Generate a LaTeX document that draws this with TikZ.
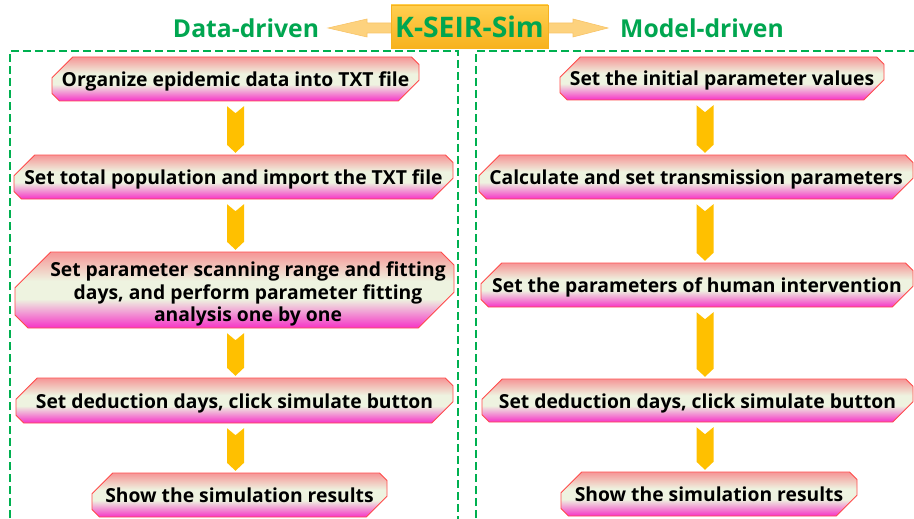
\documentclass[tikz,border=0pt]{standalone}
\usepackage{fontspec}
\setmainfont{Open Sans}
\usetikzlibrary{calc}
\definecolor{gr}{HTML}{00B050}
\definecolor{tgreen}{HTML}{00A650}
\definecolor{btop}{HTML}{F59A9A}
\definecolor{bmid}{HTML}{EEF3E0}
\definecolor{bbot}{HTML}{F53CC8}
\definecolor{bline}{HTML}{FF4B4B}
\definecolor{arr}{HTML}{FFC000}
\definecolor{tarr}{HTML}{FDD27E}
\definecolor{tarrline}{HTML}{F8C468}
\definecolor{ktop}{HTML}{FFCF50}
\definecolor{kbot}{HTML}{F7B21E}
\pgfdeclareverticalshading{snipshade}{100bp}{color(0bp)=(bbot); color(26bp)=(bbot); color(44bp)=(bmid); color(56bp)=(bmid); color(74bp)=(btop); color(100bp)=(btop)}
\tikzset{
  boxshade/.style={shading=snipshade, draw=bline, line width=0.9pt},
  boxfont/.style={font=\fontsize{19.3}{22.5}\selectfont\bfseries, inner sep=0pt, align=center},
  boxtext/.style={boxfont, text height=17pt, text depth=2pt},
  chevron/.style={fill=arr, draw=none},
  greenbox/.style={draw=gr, line width=2.4pt, dash pattern=on 8pt off 4pt},
  titletext/.style={font=\fontsize{24.7}{28}\selectfont\bfseries, text=tgreen},
  tarrow/.style={fill=tarr, draw=tarrline, line width=0.6pt},
}
\newcommand{\snip}[6]{%
  \pgfmathsetmacro\hh{#5-#3}%
  \pgfmathsetmacro\LL{0.47*\hh}%
  \pgfmathsetmacro\SS{0.17*\hh}%
  \path[boxshade] (#2+\LL,#3) -- (#4-\SS,#3) -- (#4,#3+\SS) -- (#4,#5-\LL) -- (#4-\LL,#5) -- (#2+\SS,#5) -- (#2,#5-\SS) -- (#2,#3+\LL) -- cycle;
  \node[boxtext, minimum width={(#4-#2)*1pt}, minimum height={(#5-#3)*1pt}] (#1) at ({(#2+#4)/2},{(#3+#5)/2}) {#6};
}
\newcommand{\chev}[3]{%
  \path[chevron] let \p1=(#1.south -| #3), \p2=(#2.north -| #3) in
    ({\x1-8.5pt},{\y1-5pt}) -- ({\x1},{\y1-12pt}) -- ({\x1+8.5pt},{\y1-5pt}) --
    ({\x1+8.5pt},{\y2+10pt}) -- ({\x1},{\y2+2pt}) -- ({\x1-8.5pt},{\y2+10pt}) -- cycle;
}
\begin{document}
\begin{tikzpicture}[x=1pt,y=-1pt]
\useasboundingbox (0,0) rectangle (914,519);
% dashed frames
\draw[greenbox] (10,530) -- (10,51) -- (458,51) -- (458,530);
\draw[greenbox] (476,530) -- (476,51) -- (925,51);
% title
\node[titletext] (dd) at (246,28) {Data-driven};
\node[titletext] (md) at (702,28) {Model-driven};
\coordinate (kw) at (391,28);
\coordinate (ke) at (548,28);
\coordinate (tipl) at (328,28);
\coordinate (tipr) at (608,28);
\path[tarrow] let \p1=(kw), \p2=(tipl) in
  (\x1,{\y1+5pt}) -- ({\x1-24pt},{\y1+5pt}) -- ({\x1-24pt},{\y1+9pt}) -- (\x2,\y2) --
  ({\x1-24pt},{\y1-9pt}) -- ({\x1-24pt},{\y1-5pt}) -- (\x1,{\y1-5pt});
\path[tarrow] let \p1=(ke), \p2=(tipr) in
  (\x1,{\y1+5pt}) -- ({\x1+25pt},{\y1+5pt}) -- ({\x1+25pt},{\y1+9pt}) -- (\x2,\y2) --
  ({\x1+25pt},{\y1-9pt}) -- ({\x1+25pt},{\y1-5pt}) -- (\x1,{\y1-5pt});
\node[titletext, font=\fontsize{28.3}{30}\selectfont\bfseries, top color=ktop, bottom color=kbot, draw=kbot, line width=0.6pt,
  minimum width=157pt, minimum height=43pt, inner sep=0pt] (ks) at (469.5,26.5) {K-SEIR-Sim};
% column axes
\coordinate (cl) at (235.5,0);
\coordinate (cr) at (705,0);
% left boxes
\snip{l1}{52}{57}{419}{101}{Organize epidemic data into TXT file}
\snip{l2}{14}{155}{453}{199}{Set total population and import the TXT file}
\snip{l3}{15}{252}{454}{328}{}
\node[boxfont] (l3t) at (248,294) {Set parameter scanning range and fitting\\days, and perform parameter fitting\\analysis one by one};
\snip{l4}{16}{378}{453}{423}{Set deduction days, click simulate button}
\snip{l5}{92}{473}{387}{517}{Show the simulation results}
% right boxes
\snip{r1}{560}{57}{884}{100}{Set the initial parameter values}
\snip{r2}{479}{155}{913}{199}{Calculate and set transmission parameters}
\snip{r3}{481}{263}{913}{307}{Set the parameters of human intervention}
\snip{r4}{482}{379}{913}{422}{Set deduction days, click simulate button}
\snip{r5}{561}{472}{857}{516}{Show the simulation results}
% chevrons
\chev{l1}{l2}{cl}
\chev{l2}{l3}{cl}
\chev{l3}{l4}{cl}
\chev{l4}{l5}{cl}
\chev{r1}{r2}{cr}
\chev{r2}{r3}{cr}
\chev{r3}{r4}{cr}
\chev{r4}{r5}{cr}
\end{tikzpicture}
\end{document}
